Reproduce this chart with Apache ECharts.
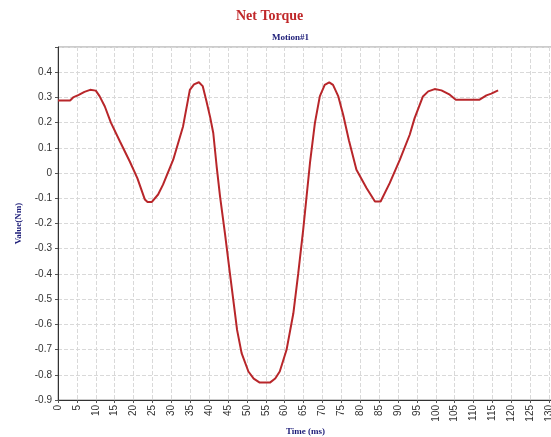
<!DOCTYPE html>
<html>
<head>
<meta charset="utf-8">
<script src="https://cdn.jsdelivr.net/npm/echarts@6/dist/echarts.min.js"></script>
<style>html,body{margin:0;padding:0;background:#fff;}#c{width:551px;height:437px;}</style>
</head>
<body>
<div id="c"></div>
<script>
var timeMs = [0, 3.2, 4, 5.5, 7, 8.5, 10, 11, 12.4, 14, 16.4, 19, 21, 23, 23.7, 24.8, 26.5, 27.8, 30.5, 33.1, 34.9, 36, 37.3, 38.3, 39.3, 40.3, 41.1, 42, 42.9, 44.2, 45.5, 46.4, 47.4, 48.6, 50.4, 51.8, 53.4, 56.1, 57.5, 58.7, 60.5, 62.3, 63.6, 64.9, 65.8, 66.7, 68, 69.3, 70.6, 71.8, 72.8, 74.2, 75.5, 77, 79, 81.7, 83.9, 85.4, 87.8, 90.5, 93.1, 94.4, 96.6, 98, 99.7, 101.5, 103.7, 105.3, 111.6, 113.4, 114.7, 116.5];
var torque = [0.288, 0.288, 0.300, 0.310, 0.322, 0.330, 0.327, 0.305, 0.264, 0.200, 0.125, 0.046, -0.020, -0.105, -0.115, -0.115, -0.085, -0.046, 0.053, 0.185, 0.330, 0.352, 0.360, 0.345, 0.285, 0.220, 0.159, 0.026, -0.093, -0.240, -0.397, -0.503, -0.622, -0.714, -0.787, -0.815, -0.831, -0.831, -0.815, -0.787, -0.701, -0.556, -0.397, -0.225, -0.093, 0.040, 0.198, 0.304, 0.350, 0.360, 0.350, 0.304, 0.230, 0.130, 0.013, -0.060, -0.113, -0.113, -0.040, 0.053, 0.152, 0.218, 0.304, 0.324, 0.333, 0.328, 0.311, 0.291, 0.291, 0.308, 0.315, 0.328];
var titleText = "Net Torque";
var subtitleText = "Motion#1";
var xName = "Time (ms)";
var yName = "Value(Nm)";

var pts = timeMs.map(function (t, i) { return [t, torque[i]]; });
var chart = echarts.init(document.getElementById('c'), null, {renderer: 'canvas'});
chart.setOption({
  backgroundColor: '#fff',
  animation: false,
  graphic: [
    {type: 'text', left: 236, top: 9,
     style: {text: titleText, font: 'bold 14px "Liberation Serif"', fill: '#c0282a'}},
    {type: 'text', left: 272, top: 33,
     style: {text: subtitleText, font: 'bold 9px "Liberation Serif"', fill: '#1c1c78'}},
    {type: 'text', left: 286, top: 427,
     style: {text: xName, font: 'bold 9px "Liberation Serif"', fill: '#1c1c78'}}
  ],
  grid: {left: 58, right: -17, top: 47, bottom: 37, show: true, borderColor: '#999', borderWidth: 1,
    backgroundColor: 'transparent', containLabel: false, outerBoundsMode: 'none'},
  xAxis: {
    type: 'value', min: 0, max: 135, interval: 5,
    axisLine: {show: true, onZero: false, lineStyle: {color: '#333', width: 1}},
    axisTick: {show: true, length: 3, lineStyle: {color: '#555'}},
    axisLabel: {rotate: 90, fontSize: 10, color: '#333', fontFamily: 'Liberation Sans', margin: 5,
      hideOverlap: false,
      formatter: function (v) { return String(v); }},
    splitLine: {show: true, lineStyle: {color: '#d9d9d9', type: 'dashed', width: 1}}
  },
  yAxis: {
    type: 'value', min: -0.9, max: 0.5, interval: 0.1,
    name: yName, nameLocation: 'middle', nameRotate: 90, nameGap: 35,
    nameTextStyle: {fontFamily: 'Liberation Serif', fontWeight: 'bold', fontSize: 9, color: '#1c1c78'},
    axisLine: {show: true, lineStyle: {color: '#333', width: 1}},
    axisTick: {show: true, length: 3, lineStyle: {color: '#555'}},
    axisLabel: {fontSize: 10, color: '#333', fontFamily: 'Liberation Sans', margin: 6,
      formatter: function (v) {
        var r = Math.round(v * 10) / 10;
        if (r >= 0.5) return '';
        return r === 0 ? '0' : r.toFixed(1);
      }},
    splitLine: {show: true, lineStyle: {color: '#d9d9d9', type: 'dashed', width: 1}}
  },
  series: [{
    type: 'line', data: pts, showSymbol: false, smooth: false,
    lineStyle: {color: '#b8262a', width: 2}
  }]
});
</script>
</body>
</html>
